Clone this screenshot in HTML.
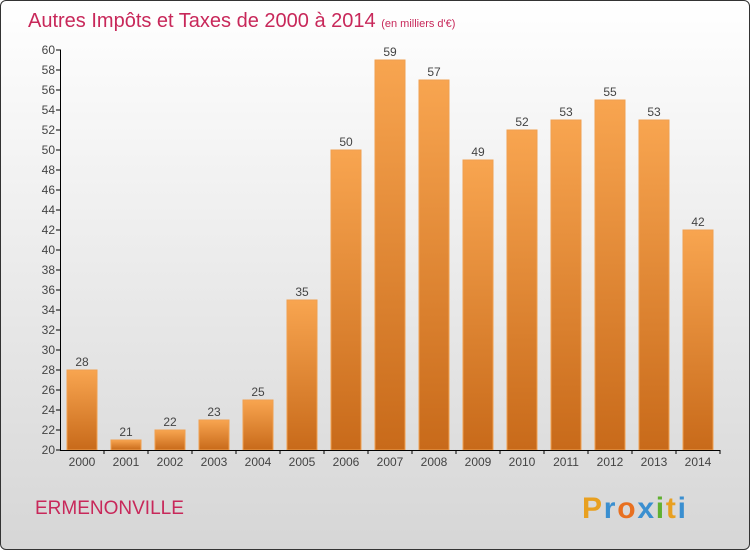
<!DOCTYPE html>
<html><head><meta charset="utf-8"><style>
body{margin:0;width:750px;height:550px;overflow:hidden;font-family:"Liberation Sans",sans-serif}
#wrap{position:absolute;left:0;top:0;width:748px;height:548px;border:1px solid #333;border-radius:6px;background:linear-gradient(#ffffff,#d6d6d6);overflow:hidden}
</style></head><body>
<div id="wrap">
<svg id="chart" width="750" height="550" style="position:absolute;left:-1px;top:-1px">
<defs><linearGradient id="bg" x1="0" y1="0" x2="0" y2="1"><stop offset="0" stop-color="#f8a550"/><stop offset="1" stop-color="#c86a1a"/></linearGradient></defs>
<text x="28" y="27" font-size="20" fill="#c8285a">Autres Impôts et Taxes de 2000 à 2014 <tspan font-size="11">(en milliers d'€)</tspan></text>
<text x="35" y="514" font-size="19" fill="#c8285a">ERMENONVILLE</text>
<text x="582" y="518" font-size="30" font-weight="bold" textLength="104"><tspan fill="#e8a020">P</tspan><tspan fill="#3a8fd0">r</tspan><tspan fill="#e87020">o</tspan><tspan fill="#3a8fd0">x</tspan><tspan fill="#60b030">i</tspan><tspan fill="#e8a020">t</tspan><tspan fill="#3a8fd0">i</tspan></text>
<g id="g"></g>
</svg></div>
<script>
const years=["2000","2001","2002","2003","2004","2005","2006","2007","2008","2009","2010","2011","2012","2013","2014"];
const values=[28,21,22,23,25,35,50,59,57,49,52,53,55,53,42];
const yTicks=[20,22,24,26,28,30,32,34,36,38,40,42,44,46,48,50,52,54,56,58,60];
const ns="http://www.w3.org/2000/svg",g=document.getElementById('g');
const X0=60,BW=44,Y=v=>450-(v-20)*10;
function mk(t,a,txt){const e=document.createElementNS(ns,t);for(const k in a)e.setAttribute(k,a[k]);if(txt!=null)e.textContent=txt;g.appendChild(e);return e;}
years.forEach((yr,i)=>{const x=X0+i*BW+7,v=values[i];
const r=mk('rect',{x:x,y:Y(v),width:30,height:450-Y(v),fill:'url(#bg)',stroke:'#f0a050','stroke-width':1});


const l=mk('text',{x:x+15,y:Y(v)-4,'font-size':12,fill:'#444','text-anchor':'middle'},v);


const t=mk('text',{x:x+15,y:466,'font-size':12,fill:'#444','text-anchor':'middle'},yr);


mk('line',{x1:X0+(i+1)*BW,x2:X0+(i+1)*BW,y1:450,y2:454,stroke:'#000'});
});
yTicks.forEach(v=>{mk('line',{x1:56,x2:61,y1:Y(v),y2:Y(v),stroke:'#000'});
const t=mk('text',{x:55,y:Y(v)+4,'font-size':12,fill:'#444','text-anchor':'end'},v);

});
const ya=mk('line',{x1:60.5,x2:60.5,y1:50,y2:450,stroke:'#000'});


const xa=mk('line',{x1:60,x2:720,y1:450.5,y2:450.5,stroke:'#000'});


</script>
</body></html>
